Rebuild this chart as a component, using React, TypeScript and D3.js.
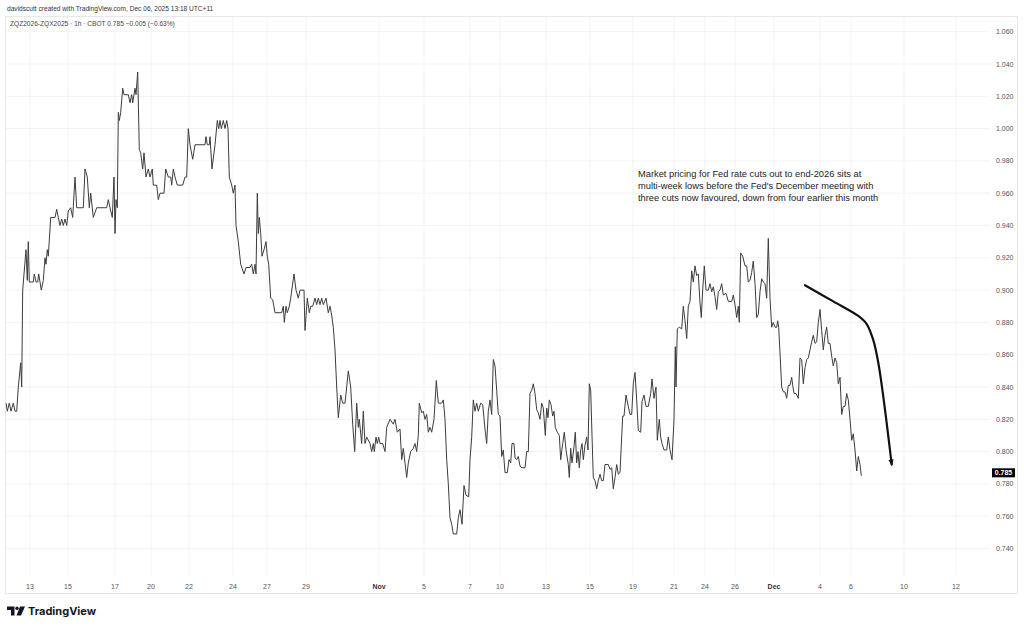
import React from "react";
import * as d3 from "d3";

// ---- data (session position along the compressed time axis, price) ----
const series: [number, number][] = [
[1,0.830],[2.3,0.825],[4.3,0.830],[6,0.825],[8.3,0.830],[10,0.825],[11.7,0.825],[13.3,0.840],[15.7,0.855],[16.7,0.840],[17.7,0.900],[21,0.925],[22.3,0.906],[23.3,0.930],[24.3,0.905],[28.3,0.905],[29.3,0.910],[31,0.905],[32.7,0.905],[33.7,0.910],[35,0.905],[36.3,0.900],[38.3,0.906],[40,0.920],[41,0.916],[42.3,0.925],[43.3,0.921],[45.7,0.945],[50,0.945],[51.7,0.950],[53.3,0.945],[55,0.940],[56.7,0.944],[58.3,0.940],[60,0.944],[61.7,0.940],[63.3,0.949],[65.7,0.951],[67.7,0.945],[70,0.970],[71.7,0.951],[78.3,0.951],[80,0.975],[82.3,0.970],[84.3,0.951],[85.7,0.960],[88.3,0.945],[91.7,0.951],[101.7,0.951],[103.3,0.956],[105,0.951],[107.3,0.945],[109,0.970],[110,0.935],[111,0.956],[112.3,0.951],[113.3,1.010],[114.3,1.005],[115.7,1.010],[117.7,1.025],[119,1.021],[123.3,1.021],[125,1.016],[126.7,1.021],[127.7,1.016],[130,1.025],[131,1.021],[132.7,1.035],[134.3,0.987],[135.7,0.985],[137.7,0.975],[139,0.985],[141,0.970],[143.3,0.975],[145,0.970],[147.3,0.975],[148.3,0.965],[151.7,0.965],[153.3,0.956],[155,0.960],[159,0.960],[160.7,0.975],[163.3,0.970],[165.7,0.970],[166.7,0.965],[168.3,0.975],[170,0.970],[172.3,0.965],[177.7,0.965],[180,0.970],[181.7,0.970],[183.3,1.000],[185,0.990],[187.7,0.981],[190,0.990],[200,0.990],[201,0.995],[202.3,0.990],[204.3,0.990],[205,0.995],[207,0.975],[210,0.990],[212.3,1.005],[213.7,1.000],[215,1.005],[216.3,1.000],[218.3,1.005],[220,1.000],[221.7,1.005],[223,1.000],[224.3,0.970],[226.7,0.965],[228.3,0.960],[230,0.965],[231,0.940],[233.3,0.930],[235.7,0.916],[239,0.910],[241,0.914],[245,0.914],[246.7,0.916],[248.3,0.910],[250,0.916],[251,0.910],[252.3,0.960],[253.3,0.935],[254.3,0.945],[255.7,0.935],[257,0.921],[259,0.925],[261,0.930],[262.3,0.921],[263.7,0.916],[265.7,0.895],[267.7,0.894],[270,0.886],[276.7,0.886],[278.3,0.890],[279.3,0.880],[281,0.890],[282.3,0.886],[284.3,0.890],[285.7,0.895],[289,0.910],[291,0.900],[293.3,0.895],[295,0.900],[299,0.900],[300,0.875],[302.3,0.895],[304.3,0.886],[305.7,0.890],[307.7,0.890],[310,0.895],[311.7,0.891],[313.3,0.895],[315,0.891],[316.7,0.895],[318.3,0.891],[321,0.895],[323.3,0.886],[325,0.890],[326.3,0.886],[328.3,0.877],[330,0.863],[331.7,0.840],[333.3,0.821],[335.7,0.835],[337.7,0.830],[340,0.830],[341.7,0.840],[343.3,0.850],[345.7,0.840],[347.7,0.817],[349.7,0.800],[351.7,0.830],[353.3,0.815],[354.3,0.820],[356.7,0.805],[358.3,0.825],[360,0.805],[361.7,0.809],[365,0.805],[366.7,0.800],[368.3,0.805],[369.3,0.800],[371,0.809],[372.3,0.805],[373.7,0.809],[375,0.805],[377.7,0.805],[380,0.800],[381.7,0.815],[385,0.820],[388.3,0.817],[390,0.820],[392.3,0.812],[395,0.814],[396.7,0.795],[398.3,0.802],[401.7,0.784],[403.3,0.793],[405.7,0.800],[408.3,0.802],[410,0.805],[411.7,0.800],[413.3,0.810],[414.3,0.830],[416.7,0.824],[418.3,0.825],[420,0.820],[421.7,0.823],[423.3,0.812],[425,0.815],[426.7,0.812],[429,0.820],[431.3,0.844],[433.3,0.830],[436.7,0.830],[438.3,0.832],[440,0.820],[441.7,0.795],[443.3,0.780],[445,0.759],[446.7,0.755],[448.3,0.749],[451.7,0.749],[453.3,0.759],[455,0.764],[457,0.755],[459,0.779],[461,0.773],[463.7,0.772],[465,0.795],[466.7,0.809],[468.3,0.832],[470,0.825],[471.7,0.830],[473.3,0.825],[475.7,0.830],[477.7,0.829],[480,0.814],[481.7,0.805],[483.3,0.825],[485,0.832],[486.7,0.823],[488.3,0.857],[490,0.853],[491.7,0.838],[493.3,0.823],[495,0.822],[496.7,0.797],[498.3,0.801],[500,0.787],[502.3,0.787],[504,0.795],[505.7,0.793],[507,0.805],[509,0.805],[510,0.796],[511.7,0.795],[513.3,0.797],[515,0.791],[517,0.790],[520,0.790],[521.7,0.800],[523.3,0.800],[525,0.836],[526.7,0.838],[528.3,0.842],[530,0.836],[531.7,0.826],[533.3,0.824],[535,0.820],[536.7,0.830],[538.3,0.827],[540.3,0.810],[541.7,0.827],[543,0.821],[544.3,0.832],[546,0.829],[547.7,0.822],[549,0.825],[550.3,0.815],[552.3,0.812],[554.3,0.810],[555.7,0.795],[557.7,0.805],[559.3,0.812],[561,0.801],[563.3,0.792],[564.3,0.784],[565.7,0.802],[567,0.793],[569,0.803],[570.3,0.812],[571.7,0.793],[573,0.800],[574.3,0.790],[575.7,0.801],[577,0.805],[578.3,0.795],[580,0.804],[581.7,0.809],[583,0.801],[584.3,0.842],[585.7,0.838],[587,0.810],[588.3,0.784],[590,0.782],[591.7,0.777],[593.3,0.782],[595,0.786],[596.7,0.782],[598.3,0.782],[600,0.792],[603.3,0.792],[605,0.789],[606.7,0.790],[608.3,0.777],[610,0.784],[611.7,0.792],[613.3,0.786],[615,0.787],[617.7,0.822],[619,0.822],[621,0.835],[623.3,0.828],[625,0.823],[626.7,0.823],[628.3,0.842],[630,0.849],[631.7,0.832],[633.3,0.813],[635.7,0.812],[637,0.831],[639,0.835],[641,0.828],[643.3,0.828],[645.7,0.836],[647,0.845],[649,0.833],[651,0.840],[652.3,0.807],[654.3,0.820],[655.7,0.809],[657,0.805],[659,0.801],[661.7,0.801],[663.3,0.809],[665,0.801],[667,0.795],[669,0.820],[670.3,0.865],[671,0.840],[672.3,0.876],[674.3,0.877],[676.7,0.876],[678.3,0.890],[680,0.881],[681.7,0.870],[683.3,0.890],[685,0.893],[686.7,0.912],[688.3,0.905],[690,0.915],[691.7,0.909],[693.3,0.910],[695,0.892],[696.3,0.883],[697.7,0.900],[699.3,0.915],[701,0.900],[703.3,0.900],[705,0.904],[706.7,0.899],[708.3,0.902],[710,0.896],[711.7,0.888],[713.3,0.899],[715,0.900],[716.7,0.904],[718.3,0.897],[721,0.898],[723.3,0.893],[726.7,0.893],[728.3,0.897],[730,0.891],[731.7,0.883],[733.3,0.890],[734.3,0.880],[735.7,0.923],[737.7,0.921],[740,0.915],[741.7,0.915],[743.3,0.905],[745,0.906],[746.7,0.911],[748.3,0.918],[750,0.904],[751.7,0.883],[753.3,0.885],[755,0.899],[756.7,0.907],[758.3,0.905],[760,0.904],[761.7,0.895],[763.3,0.932],[765,0.895],[766.7,0.877],[768.3,0.880],[770,0.877],[771.7,0.877],[772.7,0.881],[773.7,0.877],[775,0.861],[776.7,0.840],[778.3,0.837],[780,0.837],[781.7,0.833],[783.3,0.841],[785,0.841],[786.7,0.846],[787.7,0.841],[789,0.836],[791,0.836],[793.3,0.833],[795,0.858],[796.7,0.857],[798.3,0.842],[800,0.852],[801.7,0.857],[803.3,0.858],[805,0.863],[806.7,0.868],[808.3,0.872],[810,0.867],[811.7,0.868],[813.3,0.880],[815,0.888],[816.7,0.875],[818.3,0.863],[820,0.872],[821.7,0.877],[823.3,0.867],[825,0.867],[826.7,0.859],[828.3,0.853],[830,0.858],[831.7,0.855],[833.3,0.842],[835,0.846],[836.7,0.823],[838.3,0.828],[840,0.828],[841.7,0.836],[843.3,0.832],[845,0.820],[846.7,0.807],[848.3,0.811],[850,0.801],[851.7,0.788],[853.3,0.797],[855,0.792],[856.3,0.785]
];

const timeTickLabels = ["13","15","17","20","22","24","27","29","Nov","5","7","10","13","15","19","21","24","26","Dec","4","6","10","12"];
const timeTickPos = [25,63,110,146,184,228,262,301,374,419,465,495,541,585,628,669,700,730,769,815,846,899,951];
const priceTicks = [1.060,1.040,1.020,1.000,0.980,0.960,0.940,0.920,0.900,0.880,0.860,0.840,0.820,0.800,0.780,0.760,0.740];
const lastPrice = 0.785;

// user-drawn arrow, in chart coordinates
const arrowPath: [number, number][] = [[800,0.903],[828.3,0.893],[853.3,0.884],[861.7,0.879],[868.3,0.869],[873.3,0.855],[878.3,0.834],[886.7,0.792]];

const noteLines = [
  "Market pricing for Fed rate cuts out to end-2026 sits at",
  "multi-week lows before the Fed's December meeting with",
  "three cuts now favoured, down from four earlier this month",
];
const headerLine = "davidscutt created with TradingView.com, Dec 06, 2025 13:18 UTC+11";
const legendLine = "ZQZ2026-ZQX2025 · 1h · CBOT  0.785  −0.005 (−0.63%)";

const W = 1024, H = 628;
const FONT = "'Liberation Sans', Arial, sans-serif";

export default function App() {
  const x = d3.scaleLinear().domain([0, 983]).range([5, 988]);
  const y = d3.scaleLinear().domain([0.74, 1.06]).range([548.5, 31.7]);
  const line = d3.line<[number, number]>().x(d => x(d[0])).y(d => y(d[1]));
  const arrow = d3.line<[number, number]>().x(d => x(d[0])).y(d => y(d[1])).curve(d3.curveCatmullRom.alpha(0.5));
  const plotTop = 16, plotBottom = 577, gridRight = 990;
  const end = arrowPath[arrowPath.length - 1];
  const prev = arrowPath[arrowPath.length - 2];
  const ex = x(end[0]), ey = y(end[1]);
  const ang = Math.atan2(ey - y(prev[1]), ex - x(prev[0]));
  const ah = 5, aw = 2.6;
  const headPts = [
    [ex + Math.cos(ang) * 1.5, ey + Math.sin(ang) * 1.5],
    [ex - Math.cos(ang) * ah + Math.sin(ang) * aw, ey - Math.sin(ang) * ah - Math.cos(ang) * aw],
    [ex - Math.cos(ang) * ah - Math.sin(ang) * aw, ey - Math.sin(ang) * ah + Math.cos(ang) * aw],
  ].map(p => p.join(",")).join(" ");
  const lp = y(lastPrice) - 3;

  return (
    <svg width={W} height={H} style={{ position: "absolute", left: 0, top: 0, background: "#fff" }} fontFamily={FONT}>
      <rect x={0} y={0} width={W} height={H} fill="#fff" />
      {/* grid */}
      {priceTicks.map((t, i) => (
        <line key={"h" + i} x1={5} x2={gridRight} y1={y(t)} y2={y(t)} stroke="#f2f3f5" strokeWidth={1} />
      ))}
      {timeTickPos.map((t, i) => (
        <line key={"v" + i} x1={x(t)} x2={x(t)} y1={plotTop} y2={plotBottom} stroke="#f2f3f5" strokeWidth={1} />
      ))}
      {/* frame */}
      <rect x={5.5} y={plotTop + 0.5} width={1012} height={593 - plotTop} fill="none" stroke="#e6e8ec" strokeWidth={1} />
      {/* series */}
      <path d={line(series) || ""} fill="none" stroke="#3c3c3c" strokeWidth={1} strokeLinejoin="round" />
      {/* arrow */}
      <path d={arrow(arrowPath) || ""} fill="none" stroke="#111" strokeWidth={2.2} strokeLinecap="round" />
      <polygon points={headPts} fill="#111" />
      {/* note */}
      {noteLines.map((l, i) => (
        <text key={"n" + i} x={638} y={176.5 + i * 12.2} fontSize={9.3} fill="#222">{l}</text>
      ))}
      {/* price axis */}
      {priceTicks.map((t, i) => (
        <text key={"p" + i} x={996} y={y(t) + 2.5} fontSize={7} fill="#555">{t.toFixed(3)}</text>
      ))}
      <rect x={992} y={lp - 4.5} width={23} height={9} fill="#000" />
      <text x={1003.5} y={lp + 2.5} fontSize={7} fill="#fff" textAnchor="middle" fontWeight="bold">{lastPrice.toFixed(3)}</text>
      {/* time axis */}
      {timeTickLabels.map((l, i) => (
        <text key={"t" + i} x={x(timeTickPos[i])} y={588.5} fontSize={7} fill={l === "Nov" || l === "Dec" ? "#333" : "#555"} fontWeight={l === "Nov" || l === "Dec" ? "bold" : "normal"} textAnchor="middle">{l}</text>
      ))}
      {/* header */}
      <text x={7} y={10.5} fontSize={6.6} fill="#333">{headerLine}</text>
      <text x={10} y={26.3} fontSize={6.6} fill="#444">{legendLine}</text>
      {/* logo */}
      <g fill="#131722">
        <path d="M7,606.5 H14.5 V615.5 H11 V610 H7 Z" />
        <circle cx={17} cy={608.3} r={1.7} />
        <path d="M20,606.5 H25 L21,615.5 H16.5 Z" />
      </g>
      <text x={28} y={615} fontSize={11} fontWeight="bold" fill="#131722" fontFamily="Inter, 'Liberation Sans', sans-serif">TradingView</text>
    </svg>
  );
}
